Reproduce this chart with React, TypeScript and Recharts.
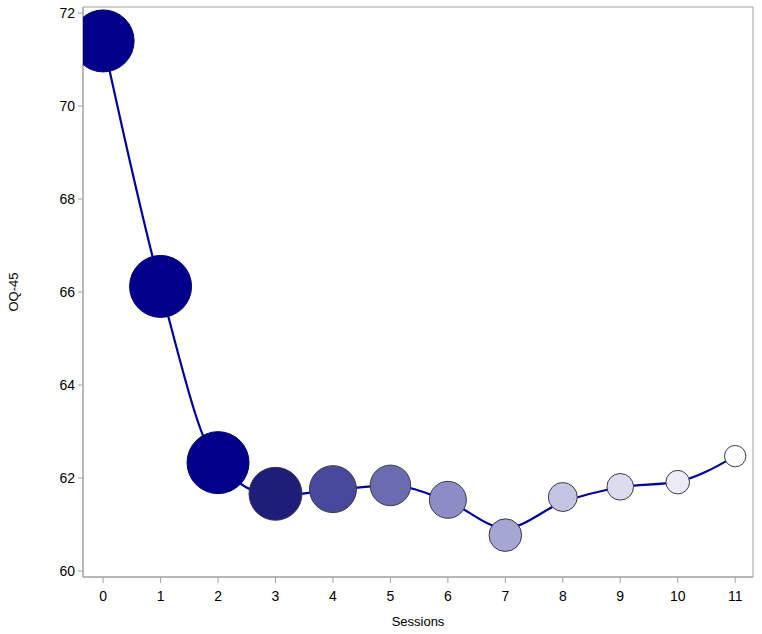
import { ComposedChart, Scatter, Line, XAxis, YAxis, ZAxis, Cell, ReferenceArea } from 'recharts';

const sessions = [0, 1, 2, 3, 4, 5, 6, 7, 8, 9, 10, 11];
const meanScores = [71.4, 66.12, 62.33, 61.66, 61.76, 61.84, 61.53, 60.77, 61.59, 61.81, 61.91, 62.47];
const smoothScores = [71.4, 66.1, 62.3, 61.62, 61.74, 61.84, 61.5, 60.92, 61.48, 61.8, 61.92, 62.47];
const bubbleSizes = [961, 961, 961, 702, 552, 412, 342, 266, 210, 177, 139, 114];
const bubbleColors = [
  '#00008b', '#00008b', '#00008b', '#1e1e78', '#48489c', '#6b6bb0',
  '#8c8cc6', '#a6a6d4', '#c4c4e3', '#dcdcef', '#ececf7', '#ffffff',
];
const yTicks = [60, 62, 64, 66, 68, 70, 72];
const xTicks = sessions;

const X_DOMAIN: [number, number] = [-0.35, 11.31];
const Y_DOMAIN: [number, number] = [59.87, 72.13];

const rows = sessions.map((session, i) => ({
  session,
  score: meanScores[i],
  fit: smoothScores[i],
  size: bubbleSizes[i],
}));

const font = '"Liberation Sans", Arial, sans-serif';
const tickStyle = { fontSize: 14, fill: '#000', fontFamily: font };

export default function App() {
  return (
    <div style={{ position: 'absolute', left: 0, top: 0, width: 762, height: 634, background: '#fff' }}>
      <ComposedChart
        width={762}
        height={634}
        data={rows}
        margin={{ top: 7, right: 9, bottom: 0, left: 0 }}
      >
        <XAxis
          dataKey="session"
          type="number"
          domain={X_DOMAIN}
          ticks={xTicks}
          allowDataOverflow
          height={57}
          stroke="#a0a0a0"
          tickSize={6}
          tickMargin={8}
          tick={tickStyle}
          label={{
            value: 'Sessions',
            position: 'insideBottom',
            offset: 8,
            style: { fontSize: 13, fill: '#000', fontFamily: font },
          }}
        />
        <YAxis
          type="number"
          domain={Y_DOMAIN}
          ticks={yTicks}
          allowDataOverflow
          width={83}
          stroke="#a0a0a0"
          tickSize={5}
          tickMargin={3}
          tick={tickStyle}
          label={{
            value: 'OQ-45',
            angle: -90,
            position: 'insideLeft',
            offset: 13,
            style: { fontSize: 13, fill: '#000', fontFamily: font, textAnchor: 'middle' },
          }}
        />
        <ZAxis dataKey="size" type="number" domain={[0, 961]} range={[0, 3019]} />
        <ReferenceArea
          x1={X_DOMAIN[0]}
          x2={X_DOMAIN[1]}
          y1={Y_DOMAIN[0]}
          y2={Y_DOMAIN[1]}
          fill="none"
          stroke="#a0a0a0"
          strokeWidth={1}
          ifOverflow="visible"
        />
        <Scatter data={rows} dataKey="score" isAnimationActive={false}>
          {rows.map((row, i) => (
            <Cell
              key={row.session}
              fill={bubbleColors[i]}
              stroke={i < 3 ? '#00006e' : '#3a3a4a'}
              strokeWidth={1}
            />
          ))}
        </Scatter>
        <Line
          dataKey="fit"
          type="monotone"
          stroke="#0000a0"
          strokeWidth={2.2}
          dot={false}
          activeDot={false}
          isAnimationActive={false}
        />
      </ComposedChart>
    </div>
  );
}
